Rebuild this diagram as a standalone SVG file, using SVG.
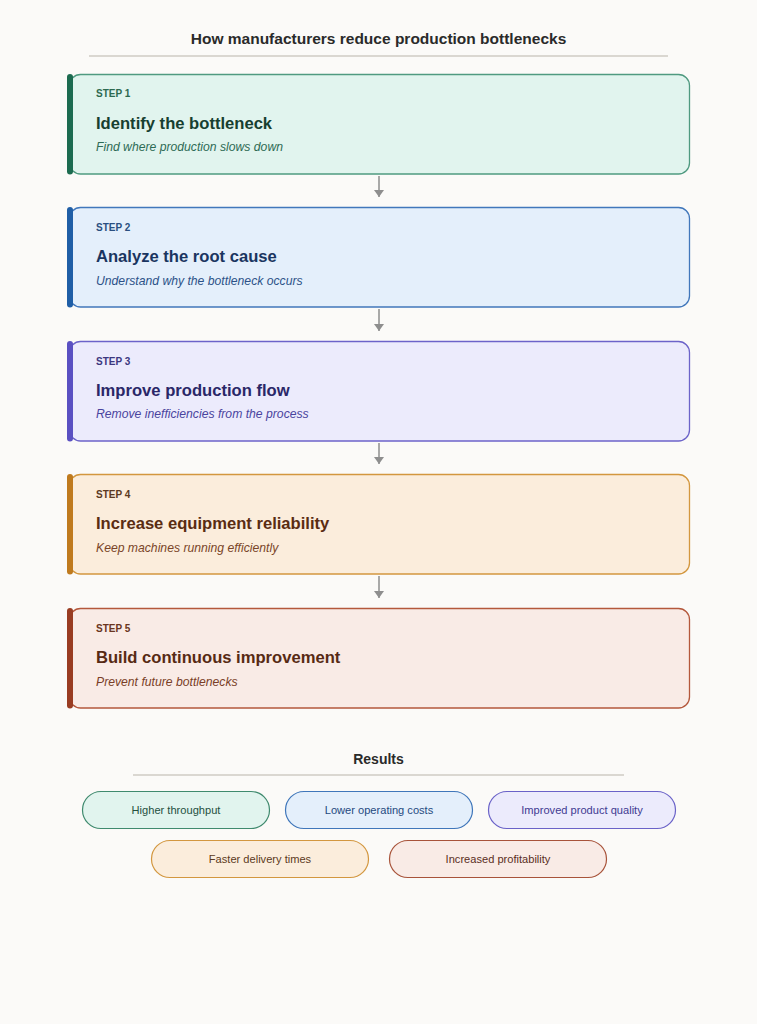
<svg xmlns="http://www.w3.org/2000/svg" width="757" height="1024" viewBox="0 0 757 1024">
<style>
text{font-family:"Liberation Sans",Arial,sans-serif}
.title{font-size:15.5px;font-weight:bold;fill:#2a2a2a}
.step{font-size:10px;font-weight:bold}
.head{font-size:16.6px;font-weight:bold}
.sub{font-size:12.2px;font-style:italic}
.pill{font-size:11.1px}
.rule{stroke:#cfcbc4;stroke-width:1.3}
.conn{stroke:#8e8e8e;stroke-width:1.5;fill:none}
</style>
<defs>
<marker id="ah" viewBox="0 0 7 10" refX="7" refY="5" markerWidth="7" markerHeight="10" markerUnits="userSpaceOnUse" orient="auto"><path d="M0,0 L7,5 L0,10 z" fill="#8e8e8e"/></marker>
</defs>
<rect width="757" height="1024" fill="#fbfaf8"/>
<text class="title" x="378.5" y="44" text-anchor="middle">How manufacturers reduce production bottlenecks</text>
<line class="rule" x1="89" y1="56" x2="668" y2="56"/>

<g id="step1">
<rect x="69.5" y="74.5" width="620" height="99.5" rx="11" fill="#e1f4ee" stroke="#4f9a80" stroke-width="1.3"/>
<rect x="67" y="74" width="6" height="100.5" rx="3" fill="#1c6b50"/>
<text class="step" x="96" y="97" fill="#2d6a50">STEP 1</text>
<text class="head" x="96" y="129" fill="#173f30">Identify the bottleneck</text>
<text class="sub" x="96" y="151" fill="#2e6b55">Find where production slows down</text>
</g>
<g id="step2">
<rect x="69.5" y="207.5" width="620" height="99.5" rx="11" fill="#e4effb" stroke="#4177bb" stroke-width="1.3"/>
<rect x="67" y="207" width="6" height="100.5" rx="3" fill="#1f5ea6"/>
<text class="step" x="96" y="231" fill="#2a4f80">STEP 2</text>
<text class="head" x="96" y="262" fill="#1a3560">Analyze the root cause</text>
<text class="sub" x="96" y="285" fill="#2c5288">Understand why the bottleneck occurs</text>
</g>
<g id="step3">
<rect x="69.5" y="341.5" width="620" height="99.5" rx="11" fill="#ecebfc" stroke="#6c63c9" stroke-width="1.3"/>
<rect x="67" y="341" width="6" height="100.5" rx="3" fill="#5a50c2"/>
<text class="step" x="96" y="365" fill="#3c3880">STEP 3</text>
<text class="head" x="96" y="396" fill="#2a2768">Improve production flow</text>
<text class="sub" x="96" y="418" fill="#4a449e">Remove inefficiencies from the process</text>
</g>
<g id="step4">
<rect x="69.5" y="474.5" width="620" height="99.5" rx="11" fill="#fbeddc" stroke="#d3973f" stroke-width="1.3"/>
<rect x="67" y="474" width="6" height="100.5" rx="3" fill="#bf7a1e"/>
<text class="step" x="96" y="498" fill="#5c3a22">STEP 4</text>
<text class="head" x="96" y="529" fill="#5a2c12">Increase equipment reliability</text>
<text class="sub" x="96" y="552" fill="#7a4528">Keep machines running efficiently</text>
</g>
<g id="step5">
<rect x="69.5" y="608.5" width="620" height="99.5" rx="11" fill="#f9ebe6" stroke="#b4583c" stroke-width="1.3"/>
<rect x="67" y="608" width="6" height="100.5" rx="3" fill="#993c22"/>
<text class="step" x="96" y="632" fill="#6a3520">STEP 5</text>
<text class="head" x="96" y="663" fill="#572a14">Build continuous improvement</text>
<text class="sub" x="96" y="686" fill="#7a3e26">Prevent future bottlenecks</text>
</g>

<g id="connectors">
<line class="conn" x1="379" y1="176" x2="379" y2="197" marker-end="url(#ah)"/>
<line class="conn" x1="379" y1="309" x2="379" y2="331" marker-end="url(#ah)"/>
<line class="conn" x1="379" y1="443" x2="379" y2="464" marker-end="url(#ah)"/>
<line class="conn" x1="379" y1="576" x2="379" y2="598" marker-end="url(#ah)"/>
</g>

<text class="title" x="378.5" y="764" text-anchor="middle" style="font-size:14px">Results</text>
<line class="rule" x1="133" y1="775" x2="624" y2="775"/>

<g id="r1"><rect x="82.5" y="791.5" width="187" height="37" rx="18.5" fill="#e1f4ee" stroke="#3f8a6e" stroke-width="1.2"/><text class="pill" x="176" y="814" text-anchor="middle" fill="#24503f">Higher throughput</text></g>
<g id="r2"><rect x="285.5" y="791.5" width="187" height="37" rx="18.5" fill="#e4effb" stroke="#3f76ba" stroke-width="1.2"/><text class="pill" x="379" y="814" text-anchor="middle" fill="#244a80">Lower operating costs</text></g>
<g id="r3"><rect x="488.5" y="791.5" width="187" height="37" rx="18.5" fill="#ecebfc" stroke="#6a62c8" stroke-width="1.2"/><text class="pill" x="582" y="814" text-anchor="middle" fill="#3f3a92">Improved product quality</text></g>
<g id="r4"><rect x="151.5" y="840.5" width="217" height="37" rx="18.5" fill="#fbeddc" stroke="#d3973f" stroke-width="1.2"/><text class="pill" x="260" y="863" text-anchor="middle" fill="#5c3a22">Faster delivery times</text></g>
<g id="r5"><rect x="389.5" y="840.5" width="217" height="37" rx="18.5" fill="#f9ebe6" stroke="#a8533a" stroke-width="1.2"/><text class="pill" x="498" y="863" text-anchor="middle" fill="#5a2e1c">Increased profitability</text></g>
</svg>
